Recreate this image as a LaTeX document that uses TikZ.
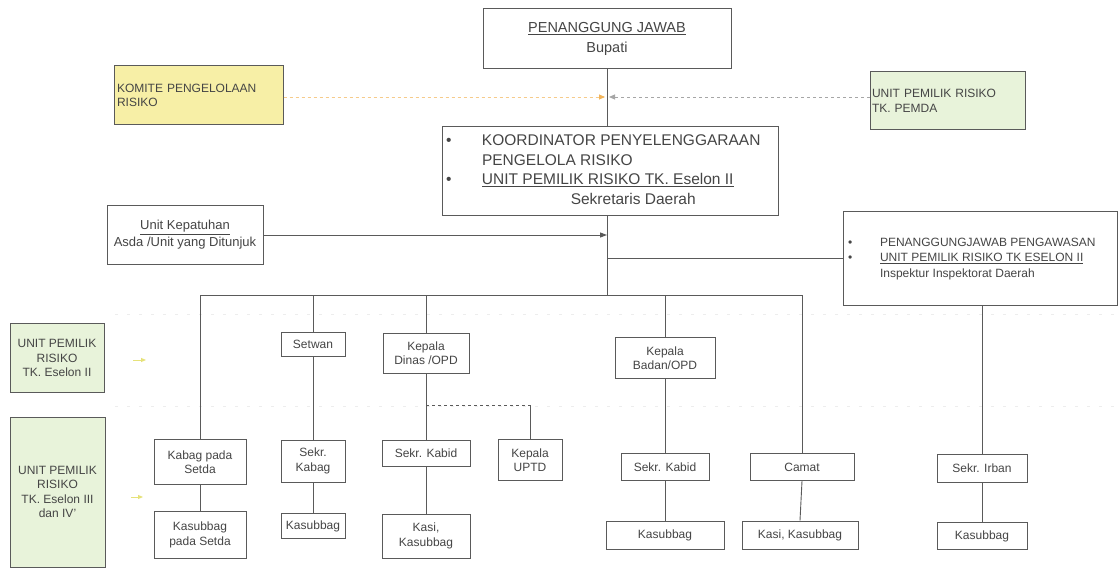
\documentclass[tikz,border=0pt]{standalone}
\usepackage{fontspec}
\setmainfont{Liberation Sans}
\usetikzlibrary{arrows.meta,calc}
\definecolor{ln}{HTML}{5A5A5A}
\definecolor{tx}{HTML}{454545}
\definecolor{yfill}{HTML}{F7EFA6}
\definecolor{gfill}{HTML}{E8F3DA}
\definecolor{orng}{HTML}{F2B45A}
\definecolor{ylw}{HTML}{E6E27A}
\begin{document}
\begin{tikzpicture}[x=1pt,y=-1pt,
  box/.style={draw=ln, line width=1pt, fill=white, text=tx, inner sep=2pt, align=center,
    font=\fontsize{12}{14.5}\selectfont},
  conn/.style={draw=ln, line width=0.9pt},
  faint/.style={draw=gray!14, line width=0.8pt, dash pattern=on 3pt off 9pt},
  tip/.style={-{Triangle[length=7pt,width=5pt]}}
]
\useasboundingbox[fill=white] (0,0) rectangle (1119,580);

% faint dotted level lines
\draw[faint] (115,314) -- (1119,314);
\draw[faint] (115,406) -- (1119,406);

% top
\node[box, minimum width=248pt, minimum height=60pt, font=\fontsize{14.5}{20}\selectfont] (bupati) at (607,39) {\underline{PENANGGUNG JAWAB}\\Bupati};

\node[box, fill=yfill, minimum width=169pt, minimum height=59pt, text width=163pt, align=left, inner sep=3pt] (komite) at (198.5,95.5) {KOMITE PENGELOLAAN\\RISIKO};

\node[box, fill=gfill, minimum width=155pt, minimum height=58pt, text width=151pt, align=left, inner sep=2pt] (pemda) at (947.5,101) {UNIT PEMILIK RISIKO\\TK. PEMDA};

\node[box, inner sep=0pt, minimum width=336pt, minimum height=89pt, font=\fontsize{15.5}{19.5}\selectfont] (koord) at (610,171)
  {\makebox[336pt][l]{\hspace{4pt}\begin{tabular}{@{}p{36pt}@{}l@{}}
   \textbullet & KOORDINATOR PENYELENGGARAAN\\
               & PENGELOLA RISIKO\\
   \textbullet & \underline{UNIT PEMILIK RISIKO TK. Eselon II}\\
               & \multicolumn{1}{c}{\hspace*{24pt}Sekretaris Daerah}
  \end{tabular}}};

\node[box, minimum width=156pt, minimum height=59pt, font=\fontsize{13}{17}\selectfont] (kep) at (185,235) {\underline{Unit Kepatuhan}\\Asda /Unit yang Ditunjuk};

\node[box, inner sep=0pt, minimum width=274pt, minimum height=93pt, font=\fontsize{12}{15.5}\selectfont] (insp) at (980,258.5)
  {\makebox[274pt][l]{\hspace{5pt}\begin{tabular}{@{}p{32pt}@{}l@{}}
   \textbullet & PENANGGUNGJAWAB PENGAWASAN\\
   \textbullet & \underline{UNIT PEMILIK RISIKO TK ESELON II}\\
               & Inspektur Inspektorat Daerah
  \end{tabular}}};

% left legend boxes
\node[box, fill=gfill, minimum width=94pt, minimum height=69pt, inner sep=1pt] (ue2) at (57,358) {UNIT PEMILIK\\RISIKO\\TK. Eselon II};
\node[box, fill=gfill, minimum width=95pt, minimum height=150pt, inner sep=1pt] (ue3) at (57.5,492) {UNIT PEMILIK\\RISIKO\\TK. Eselon III\\dan IV'};

% second level
\node[box, minimum width=64pt, minimum height=24pt] (setwan) at (313,344) {Setwan};
\node[box, minimum width=86pt, minimum height=40pt] (kdinas) at (426,353) {Kepala\\Dinas /OPD};
\node[box, minimum width=100pt, minimum height=41pt] (kbadan) at (665,358) {Kepala\\Badan/OPD};

% third level
\node[box, minimum width=92pt, minimum height=45pt] (kabag) at (200,462) {Kabag pada\\Setda};
\node[box, minimum width=64pt, minimum height=42pt] (skabag) at (313,461) {Sekr.\\Kabag};
\node[box, minimum width=88pt, minimum height=26pt] (skabid1) at (426,453) {Sekr. Kabid};
\node[box, minimum width=64pt, minimum height=41pt] (uptd) at (530,460) {Kepala\\UPTD};
\node[box, minimum width=88pt, minimum height=27pt] (skabid2) at (665,467) {Sekr. Kabid};
\node[box, minimum width=104pt, minimum height=27pt] (camat) at (802,467) {Camat};
\node[box, minimum width=90pt, minimum height=28pt] (irban) at (982,468) {Sekr. Irban};

% fourth level
\node[box, minimum width=92pt, minimum height=47pt] (kasubS) at (200,535) {Kasubbag\\pada Setda};
\node[box, minimum width=64pt, minimum height=25pt] (kasub2) at (313,526) {Kasubbag};
\node[box, minimum width=88pt, minimum height=44pt] (kasi1) at (426,536) {Kasi,\\Kasubbag};
\node[box, minimum width=118pt, minimum height=28pt] (kasub3) at (665,535) {Kasubbag};
\node[box, minimum width=116pt, minimum height=28pt] (kasi2) at (800,535) {Kasi, Kasubbag};
\node[box, minimum width=90pt, minimum height=27pt] (kasub4) at (982,536) {Kasubbag};

% spine and bus
\coordinate (sp) at (607,0);
\coordinate (bus) at (0,295);
\coordinate (dl) at (0,97);
\coordinate (dj) at (0,405);

\draw[conn] (sp |- bupati.south) -- (sp |- koord.north);
\draw[conn] (sp |- koord.south) -- (sp |- bus);
\draw[conn] (kabag.north |- bus) -- (camat.north |- bus);

\draw[conn,tip] (kep.east) -- (sp |- kep.east);
\draw[conn] (sp |- insp.west) -- (insp.west);

\draw[draw=orng!70, line width=0.9pt, dashed, -{Triangle[length=6pt,width=5pt,fill=orng,color=orng]}] (komite.east |- dl) -- ($(sp |- dl)+(-2,0)$);
\draw[draw=gray!70, line width=0.9pt, dashed, -{Triangle[length=6pt,width=5pt]}] (pemda.west |- dl) -- ($(sp |- dl)+(2,0)$);

% drops from bus
\draw[conn] (kabag.north |- bus) -- (kabag.north);
\draw[conn] (setwan.north |- bus) -- (setwan.north);
\draw[conn] (kdinas.north |- bus) -- (kdinas.north);
\draw[conn] (kbadan.north |- bus) -- (kbadan.north);
\draw[conn] (camat.north |- bus) -- (camat.north);
\draw[conn] (insp.south -| irban.north) -- (irban.north);

% vertical chains
\draw[conn] (kabag.south) -- (kasubS.north);
\draw[conn] (setwan.south) -- (skabag.north);
\draw[conn] (skabag.south) -- (kasub2.north);
\draw[conn] (kdinas.south) -- (skabid1.north);
\draw[conn] (skabid1.south) -- (kasi1.north);
\draw[conn, dashed] (kdinas.south |- dj) -- (uptd.north |- dj);
\draw[conn] (uptd.north |- dj) -- (uptd.north);
\draw[conn] (kbadan.south) -- (skabid2.north);
\draw[conn] (skabid2.south) -- (kasub3.north);
\draw[conn] (camat.south) -- (kasi2.north);
\draw[conn] (irban.south) -- (kasub4.north);

% small yellow markers
\coordinate (ya1) at (133,360);
\coordinate (yb1) at (146,360);
\coordinate (ya2) at (131,497);
\coordinate (yb2) at (143,497);
\draw[draw=ylw, line width=1pt, -{Triangle[length=5pt,width=4pt]}] (ya1) -- (yb1);
\draw[draw=ylw, line width=1pt, -{Triangle[length=5pt,width=4pt]}] (ya2) -- (yb2);
\end{tikzpicture}
\end{document}
